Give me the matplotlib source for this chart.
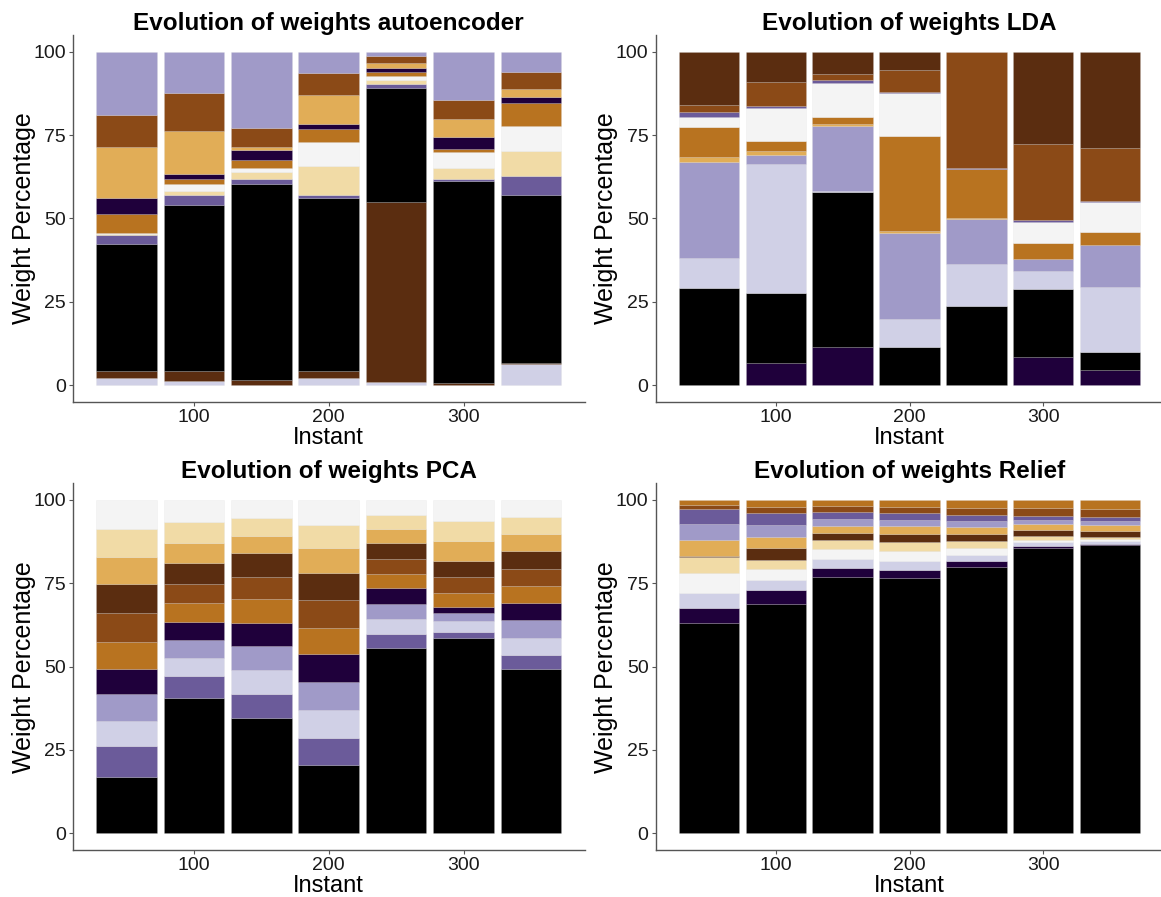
import matplotlib
matplotlib.use("Agg")
import matplotlib.pyplot as plt
import numpy as np

# colours of the features
colors = {
    "blk": "#000000",
    "dpu": "#1f003b",
    "mpu": "#6b5b9a",
    "llav": "#a09ac8",
    "vll": "#d0d0e6",
    "nw": "#f4f4f4",
    "pt": "#f1dba6",
    "lor": "#e1ad57",
    "or": "#b87320",
    "br": "#8b4a17",
    "dbr": "#5b2d10",
}

instants = [50, 100, 150, 200, 250, 300, 350]

# autoencoder, stack order bottom -> top
ae_order = ["vll", "dbr", "blk", "mpu", "pt", "nw", "or", "dpu", "lor", "br", "llav"]
ae_vals = [
    [2.2, 1.2, 0.0, 2.0, 1.0, 0.0, 6.2],
    [2.0, 3.0, 1.4, 2.2, 54.0, 0.7, 0.5],
    [38.0, 49.8, 58.9, 52.0, 34.2, 60.4, 50.2],
    [2.8, 3.0, 1.4, 0.7, 1.0, 0.6, 5.8],
    [0.2, 1.3, 2.1, 8.8, 1.3, 3.5, 7.6],
    [0.5, 2.0, 1.3, 7.3, 1.3, 4.8, 7.5],
    [5.6, 1.4, 2.4, 3.7, 1.2, 0.9, 6.9],
    [4.8, 1.6, 3.0, 1.5, 1.2, 3.4, 1.6],
    [15.4, 13.0, 1.0, 8.8, 1.3, 5.4, 2.5],
    [9.5, 11.4, 5.6, 6.5, 2.3, 5.8, 5.0],
    [19.0, 12.3, 22.9, 6.5, 1.2, 14.5, 6.2],
]

# LDA
lda_order = ["dpu", "blk", "vll", "llav", "lor", "or", "nw", "mpu", "br", "dbr"]
lda_vals = [
    [0.0, 6.7, 11.3, 0.0, 0.0, 8.5, 4.5],
    [29.0, 20.8, 46.7, 11.3, 23.7, 20.3, 5.3],
    [9.0, 38.8, 0.3, 8.6, 12.5, 5.5, 19.7],
    [29.0, 2.7, 19.4, 25.6, 13.6, 3.6, 12.4],
    [1.4, 1.2, 0.5, 0.7, 0.4, 0.0, 0.0],
    [9.0, 3.1, 2.3, 28.6, 14.6, 4.8, 3.9],
    [3.1, 9.8, 10.0, 12.7, 0.0, 6.2, 9.2],
    [1.5, 0.6, 1.0, 0.3, 0.4, 0.6, 0.3],
    [2.0, 7.3, 1.7, 6.7, 34.6, 22.8, 15.7],
    [16.0, 9.0, 6.8, 5.5, 0.2, 27.7, 29.0],
]

# PCA
pca_order = ["blk", "mpu", "vll", "llav", "dpu", "or", "br", "dbr", "lor", "pt", "nw"]
pca_vals = [
    [17.0, 40.5, 34.6, 20.6, 55.6, 58.7, 49.2],
    [9.1, 6.7, 7.3, 8.0, 4.2, 1.6, 4.3],
    [7.7, 5.5, 7.0, 8.3, 4.6, 3.3, 5.2],
    [7.9, 5.4, 7.2, 8.4, 4.5, 2.4, 5.2],
    [7.7, 5.3, 7.0, 8.4, 4.6, 1.8, 5.1],
    [8.0, 5.7, 7.2, 8.0, 4.4, 4.4, 5.1],
    [8.7, 5.8, 6.7, 8.3, 4.5, 4.8, 5.3],
    [8.7, 6.1, 7.0, 8.2, 4.7, 4.6, 5.3],
    [8.2, 6.1, 5.3, 7.3, 4.3, 6.2, 5.1],
    [8.4, 6.3, 5.2, 7.1, 4.2, 5.9, 5.1],
    [8.6, 6.6, 5.5, 7.4, 4.4, 6.3, 5.1],
]

# Relief
rel_order = ["blk", "dpu", "vll", "nw", "pt", "dbr", "lor", "llav", "mpu", "br", "or"]
rel_vals = [
    [63.1, 68.9, 77.0, 76.7, 79.8, 85.5, 86.6],
    [4.4, 4.2, 2.7, 2.3, 1.8, 0.7, 0.3],
    [4.7, 2.8, 2.7, 2.8, 1.9, 1.1, 0.7],
    [5.9, 3.3, 2.9, 2.8, 2.1, 0.7, 0.6],
    [4.8, 2.9, 2.8, 2.9, 2.0, 1.1, 0.8],
    [0.2, 3.5, 1.9, 2.4, 2.3, 1.9, 1.8],
    [4.9, 3.4, 2.2, 2.2, 1.9, 1.7, 1.6],
    [4.9, 3.5, 2.1, 2.0, 1.9, 1.4, 1.4],
    [4.4, 3.5, 2.1, 2.0, 1.8, 1.2, 1.1],
    [1.3, 2.0, 1.7, 1.8, 2.2, 2.2, 2.5],
    [1.4, 2.0, 1.9, 2.1, 2.3, 2.5, 2.6],
]

panels = [
    ("Evolution of weights autoencoder", ae_order, ae_vals),
    ("Evolution of weights LDA", lda_order, lda_vals),
    ("Evolution of weights PCA", pca_order, pca_vals),
    ("Evolution of weights Relief", rel_order, rel_vals),
]

plt.rcParams['font.family'] = ['Liberation Sans', 'DejaVu Sans']

W, H = 1161, 897
fig = plt.figure(figsize=(W / 100, H / 100), dpi=100)

# axes boxes in pixels: left, top, right, bottom
boxes = [
    (73, 35, 584.5, 401.7),
    (655.5, 35, 1163.5, 401.7),
    (73, 483.3, 584.5, 850),
    (655.5, 483.3, 1163.5, 850),
]

for (title, order, vals), (l, t, r, b) in zip(panels, boxes):
    ax = fig.add_axes([l / W, 1 - b / H, (r - l) / W, (b - t) / H])
    bottom = np.zeros(len(instants))
    for key, v in zip(order, vals):
        v = np.array(v)
        ax.bar(instants, v, width=45, bottom=bottom, color=colors[key],
               edgecolor=(0.85, 0.85, 0.85, 0.3), linewidth=0.4)
        bottom = bottom + v
    ax.set_xlim(10.25, 389.75)
    ax.set_ylim(-5, 105)
    ax.set_xticks([100, 200, 300])
    ax.set_yticks([0, 25, 50, 75, 100])
    for s in ["top", "right"]:
        ax.spines[s].set_visible(False)
    for s in ["left", "bottom"]:
        ax.spines[s].set_color("#555555")
        ax.spines[s].set_linewidth(1.0)
    ax.tick_params(length=3, width=0.8, color="#555555", labelsize=14,
                   labelcolor="#1a1a1a", pad=2)
    ax.set_title(title, fontsize=17.5, fontweight="bold", pad=2.5)
    ax.set_xlabel("Instant", fontsize=17, labelpad=1)
    ax.set_ylabel("Weight Percentage", fontsize=18)
    ax.yaxis.set_label_coords(-37 / (r - l), 0.5)

fig.savefig("out.png", dpi=100)
